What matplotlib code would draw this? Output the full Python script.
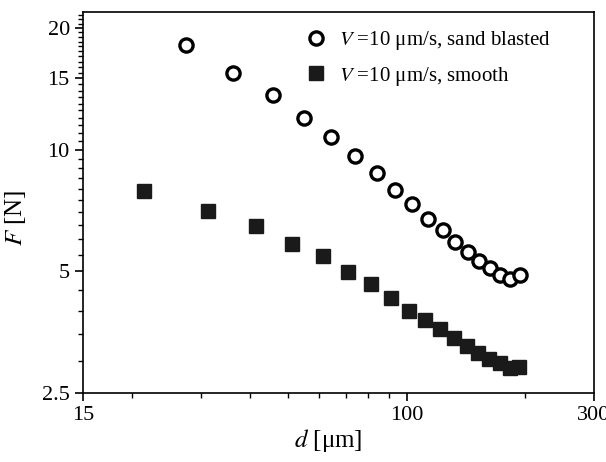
import numpy as np
import matplotlib.pyplot as plt
from matplotlib.ticker import FixedLocator, NullFormatter

plt.rcParams['font.family'] = ['Liberation Serif', 'DejaVu Serif']
plt.rcParams['mathtext.fontset'] = 'stix'

# sand blasted surface
d_sand = [27.5, 36.2, 45.6, 54.8, 64.4, 73.8, 84.1, 93.5, 103.5, 113.2,
          123.9, 133.2, 143.2, 153.2, 163.5, 173.4, 183.9, 194.6]
F_sand = [18.1, 15.5, 13.65, 11.97, 10.76, 9.62, 8.76, 7.96, 7.34, 6.75,
          6.32, 5.92, 5.59, 5.30, 5.09, 4.91, 4.80, 4.91]

# smooth surface
d_smooth = [21.4, 31.2, 41.4, 51.1, 61.3, 71.0, 81.3, 91.2, 101.6, 111.4,
            122.0, 132.0, 142.5, 152.5, 162.5, 173.0, 183.9, 193.7]
F_smooth = [7.91, 7.04, 6.48, 5.84, 5.45, 4.97, 4.65, 4.29, 3.99, 3.79,
            3.61, 3.43, 3.27, 3.14, 3.04, 2.97, 2.89, 2.90]

x_major = [15, 100, 300]
x_minor = [20, 30, 40, 50, 60, 70, 80, 90, 200]
y_major = [2.5, 5, 10, 15, 20]
y_minor = list(np.arange(3.0, 22.0, 0.5))

fig = plt.figure(figsize=(6.06, 4.62), dpi=100)
ax = fig.add_axes([0.137, 0.149, 0.843, 0.825])

ax.plot(d_sand, F_sand, 'o', mfc='white', mec='black', mew=2.4, ms=9.5,
        label=r'$V$ =10 μm/s, sand blasted')
ax.plot(d_smooth, F_smooth, 's', color='#1a1a1a', ms=9.5,
        label=r'$V$ =10 μm/s, smooth')

ax.set_xscale('log')
ax.set_yscale('log')
ax.set_xlim(15, 300)
ax.set_ylim(2.5, 21.9)

ax.xaxis.set_major_locator(FixedLocator(x_major))
ax.xaxis.set_minor_locator(FixedLocator(x_minor))
ax.set_xticklabels([str(v) for v in x_major])
ax.xaxis.set_minor_formatter(NullFormatter())
ax.yaxis.set_major_locator(FixedLocator(y_major))
ax.yaxis.set_minor_locator(FixedLocator(y_minor))
ax.set_yticklabels(['2.5', '5', '10', '15', '20'])
ax.yaxis.set_minor_formatter(NullFormatter())

ax.tick_params(which='major', direction='out', length=6, width=1.2, labelsize=16)
ax.tick_params(which='minor', direction='out', length=3.5, width=1.0)
for s in ax.spines.values():
    s.set_linewidth(1.2)

ax.set_xlabel(r'$d$ [μm]', fontsize=18, labelpad=6)
ax.xaxis.set_label_coords(0.48, -0.09)
ax.set_ylabel(r'$F$ [N]', fontsize=18, labelpad=10)
ax.yaxis.label.set_y(0.46)

ax.legend(loc='upper right', bbox_to_anchor=(0.952, 1.005), frameon=False,
          fontsize=15, handletextpad=0.5, labelspacing=0.62, handlelength=1.2)

plt.savefig('out.png', dpi=100)
